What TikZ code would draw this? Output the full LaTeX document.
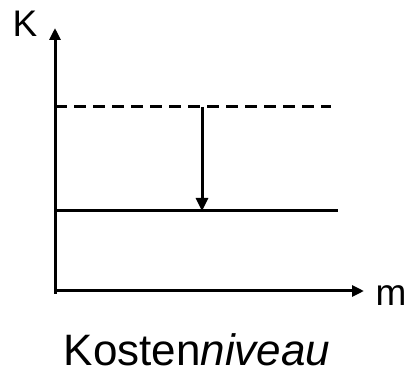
\documentclass[tikz,border=0pt]{standalone}
\usepackage{fontspec}
\setmainfont{Liberation Sans}
\usetikzlibrary{positioning,arrows.meta}

\begin{document}
\begin{tikzpicture}[
    x=1pt, y=-1pt,
    line width=3pt,
    axis/.style={-{Triangle[length=12pt,width=11pt]}},
    drop/.style={-{Triangle[length=13pt,width=12pt]}},
    axislabel/.style={font=\fontsize{37}{42}\selectfont, inner sep=0pt, anchor=base},
    caption/.style={font=\fontsize{44}{50}\selectfont, inner sep=0pt, anchor=base}
]
    \useasboundingbox (0,0) rectangle (407,371);
    % Axes
    \coordinate (origin) at (55,291);
    \coordinate (ytop) at (55,28);
    \coordinate (xend) at (364,291);
    \draw[axis] (55,294) -- (ytop);
    \draw[axis] (origin) -- (xend);
    \node[axislabel] (klabel) at (25,37) {K};
    \node[axislabel] (mlabel) at (391,306) {m};

    % Levels
    \coordinate (oldL) at (55,107);
    \coordinate (oldR) at (331,107);
    \coordinate (newL) at (55,211);
    \coordinate (newR) at (338,211);
    \draw[dashed, dash pattern=on 12pt off 7pt] (oldL) -- (oldR);
    \draw (newL) -- (newR);

    % Drop
    \coordinate (from) at (202,107);
    \coordinate (to) at (202,211);
    \draw[drop] (from) -- (to);

    % Caption
    \node[caption] (title) at (197,365) {Kosten\textit{niveau}};
\end{tikzpicture}
\end{document}
